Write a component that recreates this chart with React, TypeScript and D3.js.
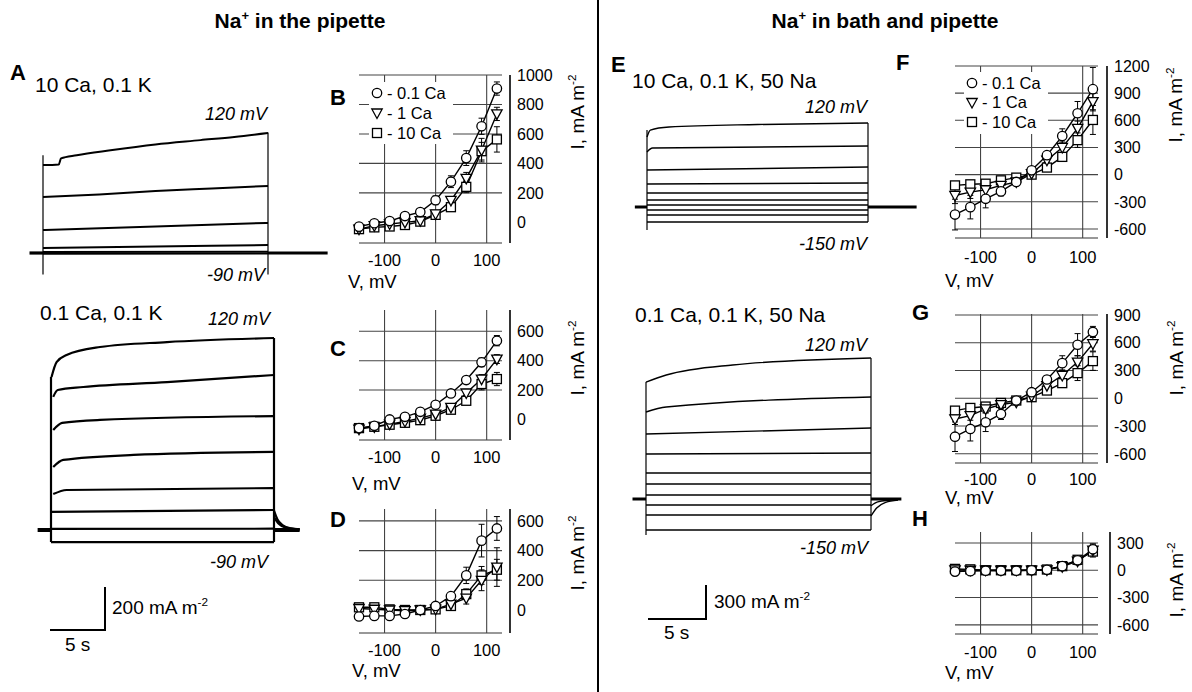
import React from "react";
import * as d3 from "d3";

const FONT = "'Liberation Sans', Arial, Helvetica, sans-serif";

// ---------------- I-V data ----------------
const VOLTAGES = [-150, -120, -90, -60, -30, 0, 30, 60, 90, 120];
const X_TICKS = [-100, 0, 100];
const SERIES_LABELS = ["- 0.1 Ca", "- 1 Ca", "- 10 Ca"];

const B_CA01 = [-29, -6, 9, 43, 70, 150, 276, 436, 652, 908];
const B_CA01_ERR = [15, 15, 15, 15, 20, 30, 40, 50, 55, 45];
const B_CA1 = [-46, -23, -11, 0, 11, 57, 149, 299, 490, 736];
const B_CA1_ERR = [10, 10, 10, 10, 12, 20, 25, 40, 80, 45];
const B_CA10 = [-46, -34, -28, -18, 5, 51, 103, 241, 483, 563];
const B_CA10_ERR = [10, 10, 10, 10, 12, 15, 20, 40, 60, 86];

const C_CA01 = [-59, -43, 0, 18, 52, 100, 177, 268, 389, 536];
const C_CA01_ERR = [10, 10, 10, 10, 10, 15, 20, 25, 30, 35];
const C_CA1 = [-66, -50, -32, -14, 9, 36, 82, 180, 275, 411];
const C_CA1_ERR = [10, 10, 10, 10, 10, 12, 15, 25, 30, 30];
const C_CA10 = [-59, -50, -36, -23, -5, 25, 66, 127, 241, 275];
const C_CA10_ERR = [10, 10, 10, 10, 10, 12, 15, 25, 40, 45];

const D_CA01 = [-44, -40, -40, -27, 0, 27, 93, 233, 467, 549];
const D_CA01_ERR = [10, 10, 10, 10, 10, 15, 20, 55, 110, 80];
const D_CA1 = [10, 5, 0, -5, 0, 5, 40, 80, 200, 289];
const D_CA1_ERR = [10, 10, 10, 10, 10, 10, 15, 40, 70, 130];
const D_CA10 = [18, 18, 4, 0, 0, 4, 27, 107, 233, 271];
const D_CA10_ERR = [10, 10, 10, 10, 10, 10, 15, 35, 60, 70];

const F_CA01 = [-441, -359, -267, -185, -81, 48, 215, 426, 678, 944];
const F_CA01_ERR = [170, 130, 100, 50, 20, 20, 40, 80, 130, 240];
const F_CA1 = [-230, -193, -167, -119, -81, 11, 159, 300, 511, 807];
const F_CA1_ERR = [90, 70, 60, 40, 20, 15, 30, 60, 80, 90];
const F_CA10 = [-119, -107, -100, -63, -33, 0, 78, 196, 381, 604];
const F_CA10_ERR = [40, 40, 30, 30, 20, 15, 30, 50, 80, 160];

const G_CA01 = [-416, -332, -260, -170, -25, 65, 202, 379, 578, 716];
const G_CA01_ERR = [160, 130, 100, 60, 20, 20, 40, 80, 120, 60];
const G_CA1 = [-224, -188, -116, -69, -43, 22, 137, 246, 390, 589];
const G_CA1_ERR = [60, 50, 40, 30, 15, 15, 30, 60, 70, 80];
const G_CA10 = [-134, -105, -90, -51, -25, 11, 83, 163, 271, 401];
const G_CA10_ERR = [30, 30, 30, 25, 15, 15, 25, 40, 80, 100];

const H_CA01 = [-15, -10, -5, -5, -5, 0, 5, 45, 110, 230];
const H_CA01_ERR = [15, 10, 10, 10, 10, 10, 10, 20, 40, 60];
const H_CA1 = [5, 0, 0, 0, 0, 0, 5, 40, 100, 220];
const H_CA1_ERR = [10, 10, 10, 10, 10, 10, 10, 20, 40, 60];
const H_CA10 = [15, 10, 0, 0, 0, 0, 8, 45, 115, 205];
const H_CA10_ERR = [10, 10, 10, 10, 10, 10, 10, 20, 40, 60];

// ---------------- current traces: [time s, current mA m-2] ----------------
const A1_TRACES = [
  [[0, 409], [1.4, 412], [1.6, 440], [3, 455], [6, 478], [10, 505], [14, 525], [17, 540], [20, 558]],
  [[0, 260], [5, 272], [10, 288], [15, 300], [20, 312]],
  [[0, 107], [10, 123], [20, 140]],
  [[0, 23], [10, 30], [20, 37]],
  [[0, 5], [20, 6]],
  [[0, -3], [20, -2]],
];
const A1_ON = [-100, 455];
const A1_OFF = [-100, 560];

const A2_TRACES = [
  [[0.05, 712], [0.5, 781], [1.4, 814], [4.4, 851], [10.4, 874], [20, 893]],
  [[0.2, 619], [0.6, 651], [2.9, 665], [10.4, 688], [20, 721]],
  [[0.2, 465], [1.0, 498], [4.4, 512], [20, 530]],
  [[0.2, 293], [1.1, 326], [7.4, 349], [20, 363]],
  [[0.2, 167], [1.4, 186], [20, 195]],
  [[0, 84], [20, 93]],
  [[0, 5], [20, 6]],
  [[0, -56], [20, -56]],
];
const A2_ON = [-56, 712];
const A2_OFF = [-56, 893];
const A2_TAILS = [
  [[20, 90], [20.3, 50], [20.8, 22], [21.5, 8], [22.3, 3]],
  [[20, 60], [20.4, 30], [21, 12], [22.3, 2]],
];

const E1_TRACES = [
  [[0, 619], [0.3, 681], [2, 708], [10, 730], [20, 743]],
  [[0, 487], [0.5, 522], [20, 540]],
  [[0, 327], [20, 354]],
  [[0, 204], [20, 212]],
  [[0, 124], [20, 124]],
  [[0, 62], [20, 62]],
  [[0, 18], [20, 18]],
  [[0, -27], [20, -27]],
  [[0, -71], [20, -71]],
  [[0, -133], [20, -133]],
];
const E1_ON = [-204, 681];
const E1_OFF = [-133, 743];

const E2_TRACES = [
  [[0, 1035], [1.8, 1097], [7.7, 1186], [20, 1248]],
  [[0, 770], [1.8, 814], [20, 903]],
  [[0, 575], [20, 628]],
  [[0, 398], [20, 407]],
  [[0, 230], [20, 230]],
  [[0, 133], [20, 133]],
  [[0, 35], [20, 35]],
  [[0, -53], [20, -53]],
  [[0, -142], [20, -142]],
  [[0, -274], [20, -274]],
];
const E2_ON = [-319, 1035];
const E2_OFF = [-274, 1248];
const E2_TAILS = [
  [[20, -150], [20.5, -80], [21.3, -30], [22.4, -10]],
  [[20, -60], [20.6, -25], [22.4, -5]],
];

// ---------------- components ----------------
type Cfg = any;

function Marker({ kind, cx, cy }: { kind: number; cx: number; cy: number }) {
  const st = { fill: "white", stroke: "black", strokeWidth: 1.3 };
  if (kind === 0) return <circle cx={cx} cy={cy} r={4.7} {...st} />;
  if (kind === 1)
    return <path d={`M${cx - 5.2},${cy - 4} L${cx + 5.2},${cy - 4} L${cx},${cy + 5.5} Z`} {...st} />;
  return <rect x={cx - 4.5} y={cy - 4.5} width={9} height={9} {...st} />;
}

function SupText({ x, y, main, sup, size, anchor, transform, weight }: any) {
  return (
    <text x={x} y={y} fontSize={size} fontFamily={FONT} textAnchor={anchor || "start"} transform={transform} fontWeight={weight || "normal"}>
      {main}
      <tspan dy={-size * 0.42} fontSize={size * 0.62}>{sup}</tspan>
    </text>
  );
}

function IVPanel({ cfg }: { cfg: Cfg }) {
  const x = d3.scaleLinear().domain([-150, 130]).range(cfg.xRange);
  const y = d3.scaleLinear().domain(cfg.yDomain).range(cfg.yRange);
  const top = cfg.yRange[1];
  const bot = cfg.yRange[0];
  const line = d3.line<number>().x((_, i) => x(VOLTAGES[i])).y((d) => y(d));
  const series = cfg.series;
  const order = [2, 1, 0];
  return (
    <g>
      {cfg.grid.map((v: number) => (
        <line key={"h" + v} x1={cfg.xRange[0]} x2={cfg.xRange[1]} y1={y(v)} y2={y(v)} stroke="#444" strokeWidth={1.1} />
      ))}
      <line x1={cfg.xRange[0]} x2={cfg.xRange[1]} y1={bot} y2={bot} stroke="#333" strokeWidth={1.2} />
      {X_TICKS.map((v) => (
        <line key={"v" + v} x1={x(v)} x2={x(v)} y1={top} y2={bot} stroke="#444" strokeWidth={1.1} />
      ))}
      {cfg.legend && (
        <g>
          <rect x={cfg.legend[0] - 8} y={cfg.legend[1] - 11} width={84} height={62} fill="white" />
          {SERIES_LABELS.map((lab, i) => (
            <g key={lab}>
              <Marker kind={i} cx={cfg.legend[0]} cy={cfg.legend[1] + i * cfg.legend[2]} />
              <text x={cfg.legend[0] + 10} y={cfg.legend[1] + i * cfg.legend[2]} dy="0.36em" fontSize={16.5} fontFamily={FONT}>
                {lab}
              </text>
            </g>
          ))}
        </g>
      )}
      <line x1={cfg.axisX} x2={cfg.axisX} y1={top} y2={bot} stroke="black" strokeWidth={1.6} />
      {cfg.yTicks.map((v: number) => (
        <text key={"t" + v} x={cfg.axisX + 7} y={y(v)} dy="0.36em" fontSize={16} fontFamily={FONT}>
          {v}
        </text>
      ))}
      {X_TICKS.map((v) => (
        <text key={"xt" + v} x={x(v)} y={cfg.xLabelY} textAnchor="middle" fontSize={16.5} fontFamily={FONT}>
          {v}
        </text>
      ))}
      <text x={cfg.vLabel[0]} y={cfg.vLabel[1]} fontSize={18.5} fontFamily={FONT}>
        V, mV
      </text>
      <SupText x={0} y={0} main="I, mA m" sup="-2" size={19} anchor="middle" transform={`translate(${cfg.iLabel[0]},${cfg.iLabel[1]}) rotate(-90)`} />
      {order.map((k) => (
        <path key={"l" + k} d={line(series[k][0]) || ""} fill="none" stroke="black" strokeWidth={1.4} />
      ))}
      {order.map((k) =>
        series[k][0].map((v: number, i: number) => {
          const e = series[k][1][i];
          const xx = x(VOLTAGES[i]);
          return (
            <g key={"e" + k + i} stroke="black" strokeWidth={1}>
              <line x1={xx} x2={xx} y1={y(v - e)} y2={y(v + e)} />
              <line x1={xx - 3} x2={xx + 3} y1={y(v - e)} y2={y(v - e)} />
              <line x1={xx - 3} x2={xx + 3} y1={y(v + e)} y2={y(v + e)} />
            </g>
          );
        })
      )}
      {order.map((k) =>
        series[k][0].map((v: number, i: number) => <Marker key={"m" + k + i} kind={k} cx={x(VOLTAGES[i])} cy={y(v)} />)
      )}
    </g>
  );
}

function TracePanel({ cfg }: { cfg: Cfg }) {
  const x = d3.scaleLinear().domain([0, 20]).range([cfg.x0, cfg.x0 + 20 * cfg.pxPerS]);
  const y = d3.scaleLinear().domain([0, 1000]).range([cfg.y0, cfg.y0 - 1000 * cfg.pxPerI]);
  const line = d3
    .line<number[]>()
    .x((d) => x(d[0]))
    .y((d) => y(d[1]))
    .curve(d3.curveMonotoneX);
  return (
    <g fill="none" stroke="black" strokeLinecap="butt">
      <line x1={x(cfg.hold[0])} x2={x(0)} y1={y(0)} y2={y(0)} strokeWidth={cfg.holdW} />
      <line x1={x(20)} x2={x(cfg.hold[1])} y1={y(0)} y2={y(0)} strokeWidth={cfg.holdW} />
      <line x1={x(0)} x2={x(0)} y1={y(cfg.on[0])} y2={y(cfg.on[1])} strokeWidth={cfg.vW} />
      <line x1={x(20)} x2={x(20)} y1={y(cfg.off[0])} y2={y(cfg.off[1])} strokeWidth={cfg.vW} />
      {cfg.traces.map((t: number[][], i: number) => (
        <path key={i} d={line(t) || ""} strokeWidth={cfg.w} />
      ))}
      {(cfg.tails || []).map((t: number[][], i: number) => (
        <path key={"t" + i} d={line(t) || ""} strokeWidth={cfg.w} />
      ))}
    </g>
  );
}

const PANEL_B = {
  xRange: [359, 502], yDomain: [-140, 1000], yRange: [243, 75], axisX: 510,
  yTicks: [0, 200, 400, 600, 800, 1000], grid: [200, 400, 600, 800, 1000],
  xLabelY: 266, vLabel: [348, 288], iLabel: [584, 112], legend: [377, 93, 20],
  series: [[B_CA01, B_CA01_ERR], [B_CA1, B_CA1_ERR], [B_CA10, B_CA10_ERR]],
};
const PANEL_C = {
  xRange: [359, 502], yDomain: [-140, 745], yRange: [440, 310], axisX: 510,
  yTicks: [0, 200, 400, 600], grid: [200, 400, 600],
  xLabelY: 463, vLabel: [352, 490], iLabel: [584, 358],
  series: [[C_CA01, C_CA01_ERR], [C_CA1, C_CA1_ERR], [C_CA10, C_CA10_ERR]],
};
const PANEL_D = {
  xRange: [359, 502], yDomain: [-155, 680], yRange: [633, 509], axisX: 510,
  yTicks: [0, 200, 400, 600], grid: [200, 400, 600],
  xLabelY: 656, vLabel: [352, 677], iLabel: [584, 553],
  series: [[D_CA01, D_CA01_ERR], [D_CA1, D_CA1_ERR], [D_CA10, D_CA10_ERR]],
};
const PANEL_F = {
  xRange: [955, 1098], yDomain: [-700, 1200], yRange: [238, 66], axisX: 1107,
  yTicks: [-600, -300, 0, 300, 600, 900, 1200], grid: [-600, -300, 0, 300, 600, 900, 1200],
  xLabelY: 263, vLabel: [945, 287], iLabel: [1182, 105], legend: [972, 83, 19.5],
  series: [[F_CA01, F_CA01_ERR], [F_CA1, F_CA1_ERR], [F_CA10, F_CA10_ERR]],
};
const PANEL_G = {
  xRange: [955, 1098], yDomain: [-700, 910], yRange: [463, 314], axisX: 1107,
  yTicks: [-600, -300, 0, 300, 600, 900], grid: [-600, -300, 0, 300, 600, 900],
  xLabelY: 485, vLabel: [945, 504], iLabel: [1183, 358],
  series: [[G_CA01, G_CA01_ERR], [G_CA1, G_CA1_ERR], [G_CA10, G_CA10_ERR]],
};
const PANEL_H = {
  xRange: [955, 1098], yDomain: [-700, 420], yRange: [634, 532], axisX: 1110,
  yTicks: [-600, -300, 0, 300], grid: [-600, -300, 0, 300],
  xLabelY: 658, vLabel: [945, 679], iLabel: [1183, 580],
  series: [[H_CA01, H_CA01_ERR], [H_CA1, H_CA1_ERR], [H_CA10, H_CA10_ERR]],
};

const TRACE_A1 = { x0: 43, pxPerS: 11.25, y0: 253, pxPerI: 0.215, hold: [-1.2, 25.3], traces: A1_TRACES, on: A1_ON, off: A1_OFF, w: 2, holdW: 3.2, vW: 1.2 };
const TRACE_A2 = { x0: 51, pxPerS: 11.15, y0: 530, pxPerI: 0.215, hold: [-1.2, 22.3], traces: A2_TRACES, on: A2_ON, off: A2_OFF, tails: A2_TAILS, w: 2.2, holdW: 4, vW: 2.2 };
const TRACE_E1 = { x0: 647, pxPerS: 11.05, y0: 207, pxPerI: 0.113, hold: [-1.1, 24.4], traces: E1_TRACES, on: E1_ON, off: E1_OFF, w: 1.4, holdW: 3, vW: 1.2 };
const TRACE_E2 = { x0: 646, pxPerS: 11.25, y0: 499, pxPerI: 0.113, hold: [-1.2, 22.7], traces: E2_TRACES, on: E2_ON, off: E2_OFF, tails: E2_TAILS, w: 1.4, holdW: 3, vW: 1.2 };

function Label({ x, y, children, size = 21, italic = false, anchor = "start", bold = false }: any) {
  return (
    <text x={x} y={y} fontSize={size} fontFamily={FONT} fontStyle={italic ? "italic" : "normal"} textAnchor={anchor} fontWeight={bold ? "bold" : "normal"}>
      {children}
    </text>
  );
}

export default function App() {
  return (
    <svg width={1192} height={692} style={{ position: "absolute", left: 0, top: 0, background: "white" }}>
      <rect width={1192} height={692} fill="white" />
      <text x={300} y={28} textAnchor="middle" fontSize={21} fontWeight="bold" fontFamily={FONT}>
        Na<tspan dy={-8} fontSize={13}>+</tspan><tspan dy={8}> in the pipette</tspan>
      </text>
      <text x={885} y={28} textAnchor="middle" fontSize={21} fontWeight="bold" fontFamily={FONT}>
        Na<tspan dy={-8} fontSize={13}>+</tspan><tspan dy={8}> in bath and pipette</tspan>
      </text>
      <line x1={598} x2={598} y1={0} y2={692} stroke="black" strokeWidth={2} />

      <Label x={10} y={80} size={22} bold>A</Label>
      <Label x={330} y={105} size={22} bold>B</Label>
      <Label x={330} y={356} size={22} bold>C</Label>
      <Label x={330} y={527} size={22} bold>D</Label>
      <Label x={611} y={72} size={22} bold>E</Label>
      <Label x={896} y={70} size={22} bold>F</Label>
      <Label x={912} y={320} size={22} bold>G</Label>
      <Label x={912} y={526} size={22} bold>H</Label>

      <Label x={35} y={92}>10 Ca, 0.1 K</Label>
      <Label x={267} y={120} size={18} italic anchor="end">120 mV</Label>
      <Label x={265} y={281} size={18} italic anchor="end">-90 mV</Label>
      <TracePanel cfg={TRACE_A1} />

      <Label x={40} y={320}>0.1 Ca, 0.1 K</Label>
      <Label x={270} y={325} size={18} italic anchor="end">120 mV</Label>
      <Label x={268} y={568} size={18} italic anchor="end">-90 mV</Label>
      <TracePanel cfg={TRACE_A2} />

      <Label x={632} y={88}>10 Ca, 0.1 K, 50 Na</Label>
      <Label x={867} y={113} size={18} italic anchor="end">120 mV</Label>
      <Label x={867} y={250} size={18} italic anchor="end">-150 mV</Label>
      <TracePanel cfg={TRACE_E1} />

      <Label x={635} y={322}>0.1 Ca, 0.1 K, 50 Na</Label>
      <Label x={867} y={351} size={18} italic anchor="end">120 mV</Label>
      <Label x={868} y={554} size={18} italic anchor="end">-150 mV</Label>
      <TracePanel cfg={TRACE_E2} />

      <g stroke="black" strokeWidth={2} fill="none">
        <path d="M50,630 L105,630 L105,587" />
        <path d="M648,619 L706,619 L706,585" />
      </g>
      <SupText x={112} y={614} main="200 mA m" sup="-2" size={19} />
      <Label x={65} y={651} size={19}>5 s</Label>
      <SupText x={714} y={608} main="300 mA m" sup="-2" size={19} />
      <Label x={664} y={639} size={19}>5 s</Label>

      <IVPanel cfg={PANEL_B} />
      <IVPanel cfg={PANEL_C} />
      <IVPanel cfg={PANEL_D} />
      <IVPanel cfg={PANEL_F} />
      <IVPanel cfg={PANEL_G} />
      <IVPanel cfg={PANEL_H} />
    </svg>
  );
}
